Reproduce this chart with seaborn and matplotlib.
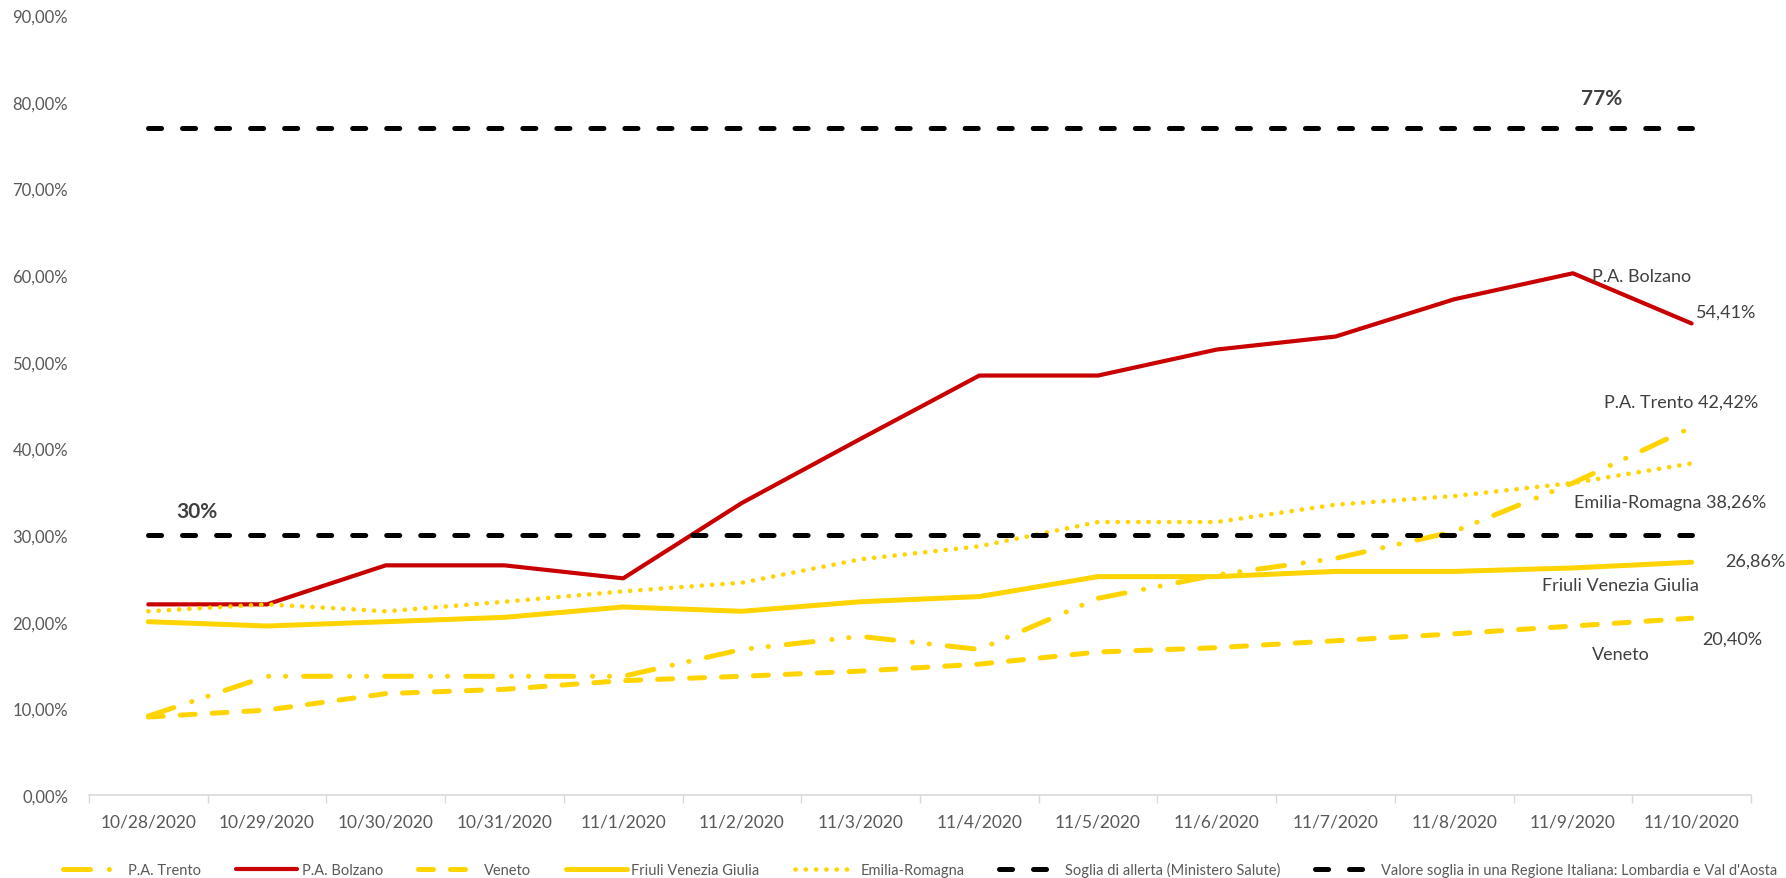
import numpy as np
import seaborn as sns
import matplotlib.pyplot as plt
from matplotlib.ticker import FuncFormatter, FixedLocator

dates = ["10/28/2020", "10/29/2020", "10/30/2020", "10/31/2020", "11/1/2020", "11/2/2020",
         "11/3/2020", "11/4/2020", "11/5/2020", "11/6/2020", "11/7/2020", "11/8/2020",
         "11/9/2020", "11/10/2020"]

trento = [9.1, 13.7, 13.7, 13.7, 13.7, 16.8, 18.3, 16.8, 22.7, 25.4, 27.3, 30.4, 36.0, 42.42]
bolzano = [22.0, 22.0, 26.5, 26.5, 25.0, 33.7, 41.1, 48.4, 48.4, 51.4, 52.9, 57.2, 60.2, 54.41]
veneto = [9.0, 9.8, 11.7, 12.2, 13.2, 13.7, 14.3, 15.1, 16.5, 17.0, 17.8, 18.6, 19.5, 20.40]
friuli = [20.0, 19.5, 20.0, 20.5, 21.7, 21.2, 22.3, 22.9, 25.2, 25.2, 25.8, 25.8, 26.2, 26.86]
emilia = [21.2, 22.0, 21.2, 22.3, 23.5, 24.5, 27.2, 28.7, 31.5, 31.5, 33.5, 34.5, 36.0, 38.26]

soglia_allerta = 30.0
soglia_lombardia = 77.0

red = "#C80000"
gold = "#FFD400"
grey_txt = "#595959"

sns.set_style("white")
plt.rcParams["font.family"] = ["Lato", "DejaVu Sans"]
plt.rcParams["lines.scale_dashes"] = False

fig = plt.figure(figsize=(17.86, 8.79), dpi=100)
ax = fig.add_axes([0.0498, 0.0944, 0.9306, 0.8874])

x = np.arange(len(dates))

# (label, values, colour, width, dash pattern in points)
series = [
    ("P.A. Trento", trento, gold, 3.6, (0, (19.4, 13.6, 0.1, 12.1, 0.1, 13.0))),
    ("P.A. Bolzano", bolzano, red, 3.0, "-"),
    ("Veneto", veneto, gold, 3.6, (0, (10.8, 12.2))),
    ("Friuli Venezia Giulia", friuli, gold, 3.6, "-"),
    ("Emilia-Romagna", emilia, gold, 3.3, (0, (0.1, 7.3))),
]
for name, vals, col, lw, ls in series:
    sns.lineplot(x=x, y=np.array(vals) / 100, ax=ax, color=col, linewidth=lw,
                 linestyle=ls, dash_capstyle="round", solid_capstyle="round",
                 label=name)

thr_ls = (0, (9.4, 15.1))
sns.lineplot(x=x, y=np.full(len(x), soglia_allerta / 100), ax=ax, color="black",
             linewidth=3.6, linestyle=thr_ls, dash_capstyle="round",
             label="Soglia di allerta (Ministero Salute)")
sns.lineplot(x=x, y=np.full(len(x), soglia_lombardia / 100), ax=ax, color="black",
             linewidth=3.6, linestyle=thr_ls, dash_capstyle="round",
             label="Valore soglia in una Regione Italiana: Lombardia e Val d'Aosta")

ax.set_xlim(-0.5, len(dates) - 0.5)
ax.set_ylim(0, 0.9)
ax.set_yticks(np.arange(0, 0.91, 0.1))
ax.yaxis.set_major_formatter(FuncFormatter(lambda v, p: f"{v * 100:.2f}%".replace(".", ",")))
ax.set_xticks(x)
ax.set_xticklabels(dates)
ax.xaxis.set_minor_locator(FixedLocator(np.arange(-0.5, len(dates), 1.0)))
ax.tick_params(axis="y", length=0, pad=15, labelsize=12, labelcolor=grey_txt)
ax.tick_params(axis="x", which="major", length=0, pad=13, labelsize=12.5, labelcolor=grey_txt)
ax.tick_params(axis="x", which="minor", length=6, width=1, color="#D9D9D9", bottom=True)
ax.set_xlabel("")
ax.set_ylabel("")
for s in ["top", "right", "left"]:
    ax.spines[s].set_visible(False)
ax.spines["bottom"].set_color("#D9D9D9")
ax.spines["bottom"].set_linewidth(1.2)

# threshold annotations
ax.text(0.41, 0.328, "30%", fontsize=15, fontweight="bold", color="#404040", ha="center", va="center")
ax.text(12.24, 0.804, "77%", fontsize=15, fontweight="bold", color="#404040", ha="center", va="center")

# end-of-line labels
labels = [
    (12.58, 0.599, "P.A. Bolzano"),
    (13.29, 0.558, "54,41%"),
    (12.91, 0.454, "P.A. Trento 42,42%"),
    (12.82, 0.338, "Emilia-Romagna 38,26%"),
    (13.54, 0.270, "26,86%"),
    (12.40, 0.242, "Friuli Venezia Giulia"),
    (13.34, 0.180, "20,40%"),
    (12.40, 0.163, "Veneto"),
]
for lx, ly, t in labels:
    ax.text(lx, ly, t, fontsize=13, color="#404040", ha="center", va="center", clip_on=False)

leg = ax.legend(loc="center", bbox_to_anchor=(0.5, -0.095), ncol=7, frameon=False,
                fontsize=10.5, labelcolor=grey_txt, handlelength=4.2, handletextpad=0.3,
                columnspacing=2.4)

fig.savefig("out.png", dpi=100)
